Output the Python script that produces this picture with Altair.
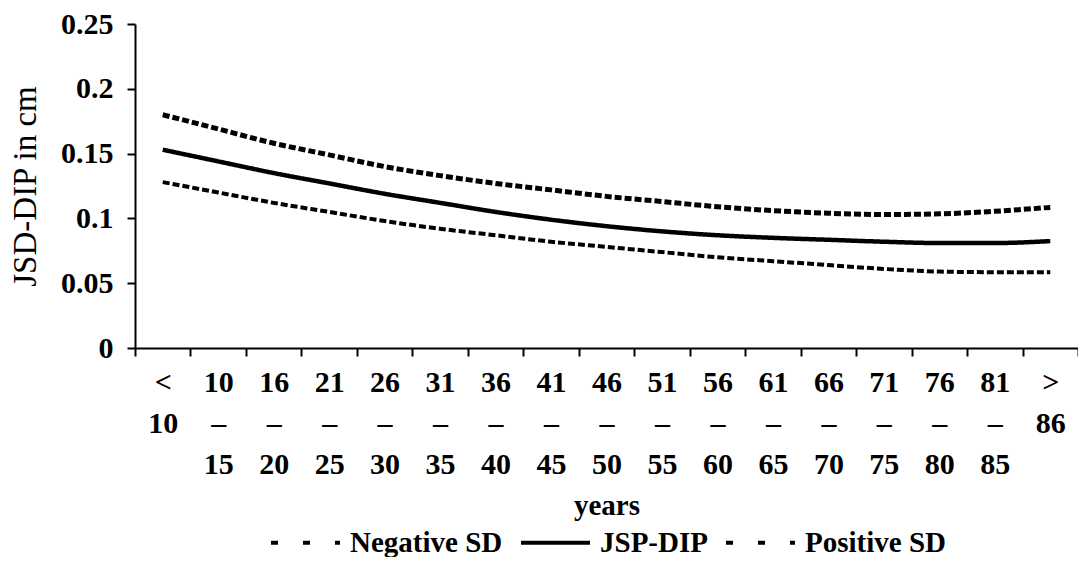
import altair as alt
import pandas as pd

categories = ["< 10", "10–15", "16–20", "21–25", "26–30", "31–35", "36–40", "41–45",
              "46–50", "51–55", "56–60", "61–65", "66–70", "71–75", "76–80", "81–85", "> 86"]
jsp_dip = [0.153, 0.144, 0.135, 0.127, 0.119, 0.112, 0.105, 0.099, 0.094, 0.090,
           0.087, 0.085, 0.0835, 0.082, 0.081, 0.081, 0.0825]
positive_sd = [0.180, 0.169, 0.158, 0.149, 0.140, 0.133, 0.127, 0.122, 0.117, 0.113,
               0.109, 0.106, 0.104, 0.103, 0.1035, 0.1055, 0.1085]
negative_sd = [0.128, 0.120, 0.112, 0.105, 0.098, 0.092, 0.087, 0.082, 0.078, 0.074,
               0.070, 0.067, 0.064, 0.061, 0.059, 0.0585, 0.0585]
series_names = ["Negative SD", "JSP-DIP", "Positive SD"]
y_ticks = [0, 0.05, 0.1, 0.15, 0.2, 0.25]

rows = []
for name, vals in zip(series_names, [negative_sd, jsp_dip, positive_sd]):
    for c, v in zip(categories, vals):
        rows.append({"age": c, "value": v, "series": name})
df = pd.DataFrame(rows)

FONT = "Liberation Serif"

x_enc = alt.X(
    "age:N",
    sort=categories,
    scale=alt.Scale(type="band", domain=categories, paddingInner=0, paddingOuter=0),
    axis=alt.Axis(
        title="years",
        titleFont=FONT, titleFontSize=29, titleFontWeight="bold", titleColor="black",
        titleBaseline="middle", titleY=157,
        labelExpr="split(replace(replace(datum.label, '–', '|–|'), ' ', '|'), '|')",
        labelFont=FONT, labelFontSize=30, labelFontWeight="bold", labelColor="black",
        labelAngle=0, labelAlign="center", labelBaseline="top", labelLineHeight=41,
        labelPadding=11, labelOverlap=False, labelBound=False, labelLimit=200,
        tickBand="extent", tickSize=8, tickWidth=2, tickColor="black",
        domainColor="black", domainWidth=2, grid=False,
    ),
)
y_enc = alt.Y(
    "value:Q",
    scale=alt.Scale(domain=[0, 0.25], nice=False),
    axis=alt.Axis(
        title="JSD-DIP in cm",
        titleFont=FONT, titleFontSize=33, titleFontWeight="normal", titleColor="black",
        titleX=-110, titleY=162, titleBaseline="middle", titleAlign="center", titleAngle=270,
        values=y_ticks, format="~g",
        labelFont=FONT, labelFontSize=30, labelFontWeight="bold", labelColor="black",
        labelPadding=14, tickSize=8, tickWidth=2, tickColor="black",
        domainColor="black", domainWidth=2, grid=False,
    ),
)

lines = alt.Chart(df).mark_line(color="black", interpolate="monotone").encode(
    x=x_enc,
    y=y_enc,
    strokeDash=alt.StrokeDash(
        "series:N",
        scale=alt.Scale(domain=series_names, range=[[7, 3], [1, 0], [7, 3]]),
        legend=None,
    ),
    strokeWidth=alt.StrokeWidth(
        "series:N",
        scale=alt.Scale(domain=series_names, range=[4, 5, 4]),
        legend=None,
    ),
    detail="series:N",
)

legend_layer = alt.Chart(df).mark_line(color="black", opacity=0, strokeWidth=4).encode(
    x=alt.X("age:N", sort=categories),
    y="value:Q",
    strokeDash=alt.StrokeDash(
        "series:N",
        scale=alt.Scale(domain=series_names, range=[[7, 25], [1, 0], [7, 25]]),
        legend=alt.Legend(
            title=None, orient="none", legendX=134, legendY=482,
            direction="horizontal", symbolType="stroke", symbolSize=4761,
            symbolStrokeWidth=4, symbolStrokeColor="black", symbolOpacity=1,
            labelFont=FONT, labelFontSize=29, labelFontWeight="bold", labelColor="black",
            labelOffset=8, columnPadding=10, labelLimit=400,
        ),
    ),
)

chart = (
    alt.layer(lines, legend_layer)
    .resolve_scale(strokeDash="independent", strokeWidth="independent")
    .properties(
        width=943, height=324,
        padding={"left": 127, "top": 16, "right": 0, "bottom": 209},
        autosize="none", background="white",
    )
    .configure_view(strokeWidth=0)
)

chart.save("out.html", embed_options={"renderer": "svg", "actions": False})
